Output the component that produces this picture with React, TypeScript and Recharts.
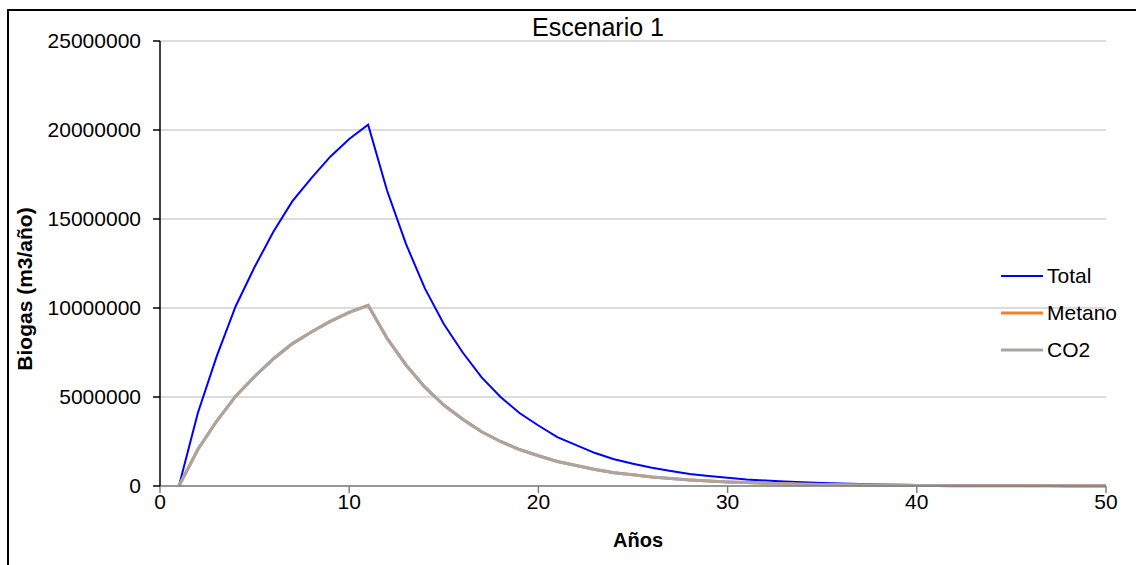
import { CartesianGrid, Line, LineChart, XAxis, YAxis } from 'recharts'

const years = [
  1, 2, 3, 4, 5, 6, 7, 8, 9, 10, 11, 12, 13, 14, 15, 16, 17, 18, 19, 20, 21, 22, 23, 24, 25,
  26, 27, 28, 29, 30, 31, 32, 33, 34, 35, 36, 37, 38, 39, 40, 41, 42, 43, 44, 45, 46, 47, 48,
  49, 50,
]

const total = [
  0, 4100000, 7300000, 10100000, 12300000, 14300000, 16000000, 17300000, 18500000, 19500000,
  20300000, 16600000, 13600000, 11100000, 9100000, 7500000, 6100000, 5000000, 4100000, 3400000,
  2750000, 2300000, 1850000, 1500000, 1250000, 1020000, 840000, 680000, 560000, 460000, 370000,
  310000, 250000, 210000, 170000, 140000, 110000, 90000, 75000, 60000, 50000, 40000, 34000,
  28000, 23000, 19000, 15000, 12000, 10000, 8000,
]

const metano = [
  0, 2050000, 3650000, 5050000, 6150000, 7150000, 8000000, 8650000, 9250000, 9750000, 10150000,
  8300000, 6800000, 5550000, 4550000, 3750000, 3050000, 2500000, 2050000, 1700000, 1380000,
  1150000, 930000, 750000, 630000, 510000, 420000, 340000, 280000, 230000, 190000, 155000,
  125000, 105000, 85000, 70000, 55000, 45000, 38000, 30000, 25000, 20000, 17000, 14000, 12000,
  10000, 8000, 6000, 5000, 4000,
]

const co2 = [
  0, 2050000, 3650000, 5050000, 6150000, 7150000, 8000000, 8650000, 9250000, 9750000, 10150000,
  8300000, 6800000, 5550000, 4550000, 3750000, 3050000, 2500000, 2050000, 1700000, 1380000,
  1150000, 930000, 750000, 630000, 510000, 420000, 340000, 280000, 230000, 190000, 155000,
  125000, 105000, 85000, 70000, 55000, 45000, 38000, 30000, 25000, 20000, 17000, 14000, 12000,
  10000, 8000, 6000, 5000, 4000,
]

const xTicks = [0, 10, 20, 30, 40, 50]
const yTicks = [0, 5000000, 10000000, 15000000, 20000000, 25000000]

const series = [
  { key: 'total', name: 'Total', color: '#0000ff', width: 2 },
  { key: 'metano', name: 'Metano', color: '#f58025', width: 3 },
  { key: 'co2', name: 'CO2', color: '#a9a5a2', width: 3 },
]

const data = years.map((year, i) => ({
  year,
  total: total[i],
  metano: metano[i],
  co2: co2[i],
}))

const FONT = 'Arial, "Liberation Sans", sans-serif'
const W = 1136
const H = 565

export default function App() {
  const tick = { fontSize: 21, fill: '#000', fontFamily: FONT }
  return (
    <div style={{ position: 'absolute', left: 0, top: 0, width: W, height: H, background: '#fff' }}>
      <div
        style={{
          position: 'absolute',
          left: 7,
          top: 9,
          width: W,
          height: H,
          borderLeft: '2px solid #000',
          borderTop: '2px solid #000',
        }}
      />
      <LineChart
        width={W}
        height={H}
        data={data}
        margin={{ top: 41, right: 30, bottom: 49, left: 60 }}
        style={{ position: 'absolute', left: 0, top: 0 }}
      >
        <CartesianGrid vertical={false} stroke="#d0d0d0" strokeWidth={1.5} />
        <XAxis
          dataKey="year"
          type="number"
          domain={[0, 50]}
          ticks={xTicks}
          height={30}
          tick={tick}
          tickSize={7}
          tickMargin={1}
          stroke="#808080"
          strokeWidth={1.5}
        />
        <YAxis
          type="number"
          domain={[0, 25000000]}
          ticks={yTicks}
          width={100}
          tick={tick}
          tickSize={7}
          tickMargin={12}
          stroke="#000"
          strokeWidth={1.5}
        />
        {series.map((s) => (
          <Line
            key={s.key}
            dataKey={s.key}
            name={s.name}
            stroke={s.color}
            strokeWidth={s.width}
            dot={false}
            type="linear"
            isAnimationActive={false}
          />
        ))}
      </LineChart>
      <svg
        width={W}
        height={H}
        style={{ position: 'absolute', left: 0, top: 0, pointerEvents: 'none' }}
        fontFamily={FONT}
      >
        <text x={598} y={36} textAnchor="middle" fontSize={25} fill="#000">
          Escenario 1
        </text>
        <text x={638} y={547} textAnchor="middle" fontSize={20} fontWeight="bold" fill="#000">
          Años
        </text>
        <text
          transform="translate(32, 289) rotate(-90)"
          textAnchor="middle"
          fontSize={21}
          fontWeight="bold"
          fill="#000"
        >
          Biogas (m3/año)
        </text>
        {series.map((s, i) => (
          <g key={s.key}>
            <line
              x1={1001}
              x2={1043}
              y1={276 + i * 37}
              y2={276 + i * 37}
              stroke={s.color}
              strokeWidth={s.width}
            />
            <text x={1047} y={276 + i * 37 + 7} fontSize={21} fill="#000">
              {s.name}
            </text>
          </g>
        ))}
      </svg>
    </div>
  )
}
